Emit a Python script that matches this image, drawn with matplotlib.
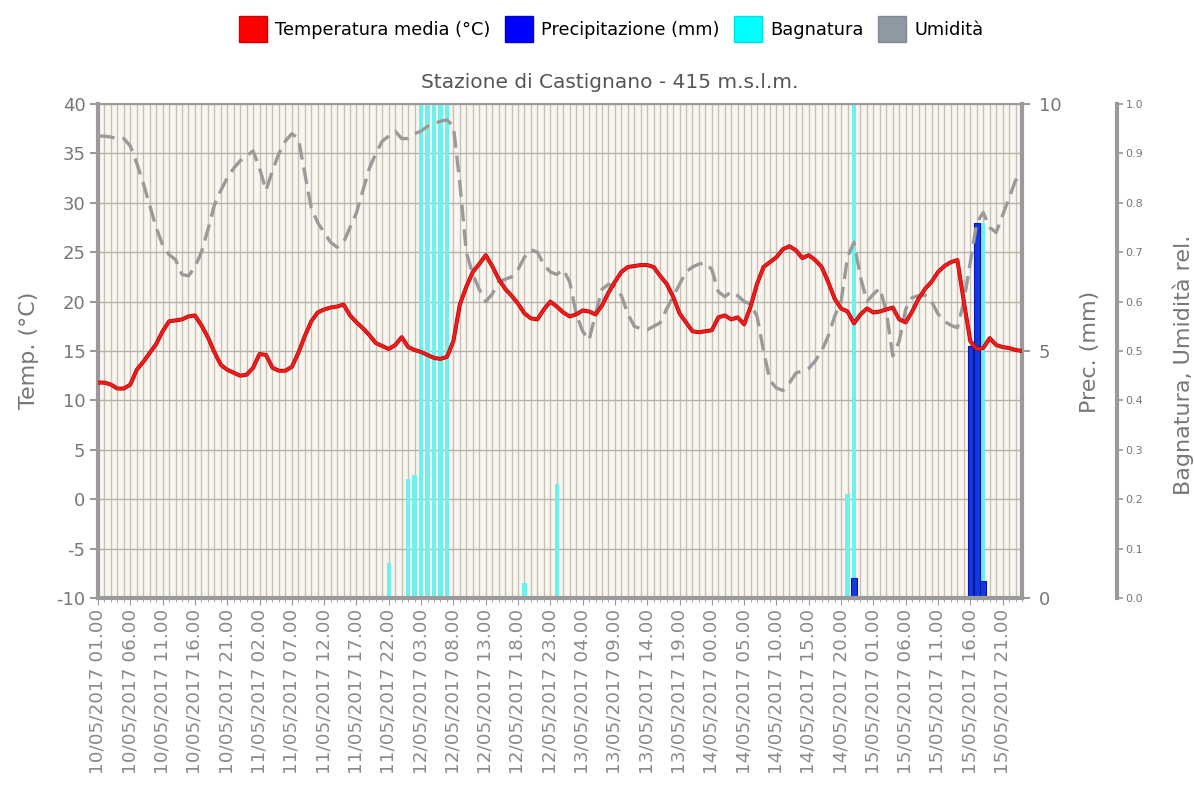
import numpy as np
import pandas as pd
import matplotlib
matplotlib.use("Agg")
import matplotlib.pyplot as plt
import matplotlib.patheffects as pe
from matplotlib.patches import Patch
from matplotlib.ticker import MultipleLocator, FormatStrFormatter

plt.rcParams["axes.unicode_minus"] = False

# hourly readings, first one at 10/05/2017 01:00
start = "2017-05-10 01:00"

temperature = [
    11.8, 11.8, 11.6, 11.2, 11.2, 11.6, 13.1, 13.9, 14.8, 15.7,
    17.0, 18.0, 18.1, 18.2, 18.5, 18.6, 17.6, 16.4, 14.9, 13.6,
    13.1, 12.8, 12.5, 12.6, 13.3, 14.7, 14.6, 13.3, 13.0, 13.0,
    13.4, 14.8, 16.5, 18.0, 18.9, 19.2, 19.4, 19.5, 19.7, 18.6,
    17.9, 17.3, 16.6, 15.8, 15.5, 15.2, 15.6, 16.4, 15.4, 15.1,
    14.9, 14.6, 14.3, 14.2, 14.4, 16.0, 19.7, 21.5, 23.0, 23.8,
    24.7, 23.6, 22.3, 21.3, 20.6, 19.8, 18.8, 18.3, 18.2, 19.2,
    20.0, 19.5, 18.9, 18.5, 18.7, 19.1, 19.0, 18.7, 19.6, 20.9,
    22.0, 23.0, 23.5, 23.6, 23.7, 23.7, 23.5, 22.6, 21.8, 20.5,
    18.8, 17.9, 17.0, 16.9, 17.0, 17.1, 18.4, 18.6, 18.2, 18.4,
    17.7, 19.5, 21.8, 23.5, 24.0, 24.5, 25.3, 25.6, 25.2, 24.4,
    24.7, 24.2, 23.5, 22.0, 20.3, 19.3, 19.0, 17.8, 18.7, 19.3,
    18.9, 19.0, 19.2, 19.4, 18.2, 17.9, 19.0, 20.3, 21.3, 22.0,
    23.0, 23.6, 24.0, 24.2, 20.0, 16.0, 15.2, 15.3, 16.3, 15.6,
    15.4, 15.3, 15.1, 15.0,
]

humidity = [
    0.935, 0.935, 0.933, 0.93, 0.93, 0.915, 0.88, 0.84, 0.795, 0.75,
    0.715, 0.695, 0.685, 0.655, 0.652, 0.67, 0.70, 0.745, 0.795, 0.825,
    0.85, 0.87, 0.885, 0.895, 0.905, 0.87, 0.825, 0.865, 0.9, 0.925,
    0.94, 0.93, 0.86, 0.79, 0.76, 0.74, 0.72, 0.71, 0.72, 0.75,
    0.78, 0.825, 0.87, 0.9, 0.925, 0.935, 0.945, 0.93, 0.93, 0.94,
    0.945, 0.955, 0.96, 0.965, 0.968, 0.955, 0.84, 0.70, 0.655, 0.625,
    0.60, 0.615, 0.64, 0.645, 0.65, 0.665, 0.69, 0.705, 0.70, 0.675,
    0.66, 0.655, 0.665, 0.64, 0.575, 0.54, 0.522, 0.575, 0.625, 0.635,
    0.63, 0.612, 0.575, 0.55, 0.545, 0.543, 0.55, 0.557, 0.585, 0.61,
    0.635, 0.66, 0.67, 0.676, 0.678, 0.665, 0.62, 0.61, 0.62, 0.612,
    0.60, 0.595, 0.57, 0.50, 0.44, 0.425, 0.42, 0.435, 0.455, 0.46,
    0.465, 0.48, 0.50, 0.53, 0.57, 0.60, 0.69, 0.72, 0.65, 0.60,
    0.615, 0.627, 0.58, 0.49, 0.52, 0.585, 0.608, 0.612, 0.613, 0.60,
    0.575, 0.56, 0.552, 0.547, 0.60, 0.68, 0.76, 0.78, 0.75, 0.74,
    0.775, 0.81, 0.845, 0.86,
]

# leaf wetness (0-1) and rain (mm), only the hours where something was recorded
wet_hours = [45, 48, 49, 50, 51, 52, 53, 54, 66, 71, 116, 117, 137]
wet_values = [0.07, 0.24, 0.25, 1.0, 1.0, 1.0, 1.0, 1.0, 0.03, 0.23, 0.21, 1.0, 0.76]
rain_hours = [117, 135, 136, 137]
rain_values = [0.4, 5.1, 7.6, 0.35]

times = pd.date_range(start, periods=len(temperature), freq="h")
hours = np.arange(len(temperature))
tick_hours = hours[::5]
tick_labels = times[::5].strftime("%d/%m/%Y %H.00")

grey = "#9a9a9a"
txt = "#777777"

fig = plt.figure(figsize=(11.94, 7.85), dpi=100)
pos = [98 / 1194, 1 - 598 / 785, 924 / 1194, 494 / 785]
ax = fig.add_axes(pos)
ax_p = ax.twinx()
ax_h = ax.twinx()

ax_h.set_zorder(1)
ax_p.set_zorder(2)
ax.set_zorder(3)
ax.patch.set_visible(False)
ax_h.patch.set_visible(True)
ax_h.set_facecolor("#f9f6f0")

# grid lives on the bottom axes
ax.set_xlim(0, hours[-1])
ax.xaxis.set_minor_locator(MultipleLocator(1))
ax.set_xticks(tick_hours)
ax_h.xaxis.set_visible(True)
ax_h.tick_params(axis="x", which="both", bottom=False, top=False,
                 labelbottom=False, labeltop=False)
ax_h.grid(axis="x", which="both", color="#c6c0b8", lw=1)
ax_h.grid(axis="y", which="major", color="#b8b1a8", lw=1)
ax_h.set_axisbelow(True)

# bars
ax_h.bar(wet_hours, wet_values, width=0.7, color="#6cf2ee", zorder=2)
ax_p.bar(rain_hours, rain_values, width=0.85, color="#1238e0",
         edgecolor="#0a18a8", lw=0.8, zorder=2)

# lines
ax.plot(hours, humidity, transform=ax_h.transData, color=grey, lw=2.4,
        dashes=(5, 2.4), zorder=4)
ax.plot(hours, temperature, color="#ee1c1c", lw=2.0, zorder=5,
        path_effects=[pe.Stroke(linewidth=2.9, foreground="#b80000"), pe.Normal()])

# scales
ax.set_ylim(-10, 40)
ax.set_yticks(np.arange(-10, 41, 5))
ax_p.set_ylim(0, 10)
ax_p.set_yticks([0, 5, 10])
ax_h.set_ylim(0, 1)
ax_h.set_yticks(np.round(np.arange(0, 1.01, 0.1), 1))
ax_h.yaxis.set_major_formatter(FormatStrFormatter("%.1f"))

ax.set_xticklabels(tick_labels, rotation=90, fontsize=13.2, color="#8a8a8a")
ax.tick_params(axis="x", which="major", length=5, color=grey, pad=3)
ax.tick_params(axis="x", which="minor", length=3, color=grey)
ax.tick_params(axis="y", length=6, width=1.5, color=grey, labelsize=13, labelcolor=txt, pad=3)
ax_p.tick_params(axis="y", length=6, width=1.5, color=grey, labelsize=13, labelcolor=txt, pad=6)
ax_h.tick_params(axis="y", length=4, width=1.2, color=grey, labelsize=8, labelcolor=txt, pad=2)

for a in (ax, ax_p, ax_h):
    for s in a.spines.values():
        s.set_visible(False)
for side in ("left", "bottom"):
    ax.spines[side].set_visible(True)
    ax.spines[side].set_color(grey)
    ax.spines[side].set_linewidth(3)
ax.spines["top"].set_visible(True)
ax.spines["top"].set_color(grey)
ax.spines["top"].set_linewidth(1.5)
ax_p.spines["right"].set_visible(True)
ax_p.spines["right"].set_color(grey)
ax_p.spines["right"].set_linewidth(3)
ax_h.spines["right"].set_visible(True)
ax_h.spines["right"].set_position(("axes", (1117 - 98) / 924))
ax_h.spines["right"].set_color(grey)
ax_h.spines["right"].set_linewidth(3)

# axis titles
fig.text(29 / 1194, 1 - 350 / 785, "Temp. (°C)", rotation=90, ha="center",
         va="center", fontsize=16, color=txt)
fig.text(1090 / 1194, 1 - 352 / 785, "Prec. (mm)", rotation=90, ha="center",
         va="center", fontsize=16, color=txt)
fig.text(1183 / 1194, 1 - 365 / 785, "Bagnatura, Umidità rel.", rotation=90,
         ha="center", va="center", fontsize=16, color=txt)

fig.text(610 / 1194, 1 - 82 / 785, "Stazione di Castignano - 415 m.s.l.m.",
         ha="center", va="center", fontsize=14.5, color="#555555")

handles = [
    Patch(facecolor="#ff0000", edgecolor="#d00000", label="Temperatura media (°C)"),
    Patch(facecolor="#0000ff", edgecolor="#0000d0", label="Precipitazione (mm)"),
    Patch(facecolor="#00ffff", edgecolor="#00e0e0", label="Bagnatura"),
    Patch(facecolor="#8e99a4", edgecolor="#808a95", label="Umidità"),
]
fig.legend(handles=handles, loc="center", bbox_to_anchor=(611 / 1194, 1 - 29 / 785),
           ncol=4, frameon=False, prop={"size": 12.8},
           handlelength=1.6, handleheight=1.8, handletextpad=0.45, columnspacing=0.8)

fig.savefig("out.png", dpi=100)
